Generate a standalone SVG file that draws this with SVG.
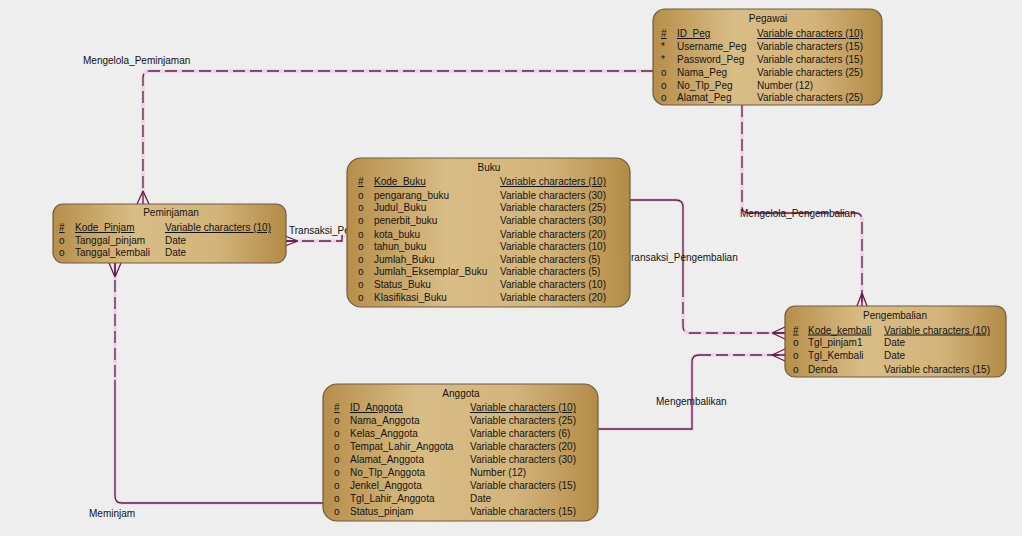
<svg xmlns="http://www.w3.org/2000/svg" width="1022" height="536" viewBox="0 0 1022 536">
<style>
.ent{stroke:#6e5c3e;stroke-width:1.2;fill:url(#gold)}
.t{font-family:"Liberation Sans",Arial,sans-serif;font-size:10px;fill:#141414}
.ttl{text-anchor:middle}
.u{text-decoration:underline}
.lbl{font-family:"Liberation Sans",Arial,sans-serif;font-size:10px;fill:#111}
.halo{fill:none;stroke:#ead6e2;stroke-width:3.5;stroke-linejoin:round}
.ln{fill:none;stroke:#631d4c;stroke-width:1.3}
.dash{stroke-dasharray:12 5}
</style>
<defs>
<linearGradient id="gold" x1="0" y1="0" x2="1" y2="0">
<stop offset="0" stop-color="#b68e4a"/>
<stop offset="0.35" stop-color="#d9bd86"/>
<stop offset="0.7" stop-color="#d3b47b"/>
<stop offset="1" stop-color="#b38b47"/>
</linearGradient>
</defs>
<rect x="0" y="0" width="1022" height="536" fill="#eeeeee"/>

<g id="connectors">
<path class="halo" d="M653,71 H150 Q143,71 143,78 V204"/>
<path class="halo" d="M285,241 H342 V236 H347"/>
<path class="halo" d="M630,200 H676 Q683,200 683,207 V326 Q683,333 690,333 H785"/>
<path class="halo" d="M742,105 V206 Q742,213 749,213 H855 Q862,213 862,220 V306"/>
<path class="halo" d="M598,429 H692 V362 Q692,355 699,355 H785"/>
<path class="halo" d="M115,263 V496 Q115,503 122,503 H323"/>
<!-- Mengelola_Peminjaman -->
<path class="ln dash" d="M653,71 H150 Q143,71 143,78 V204"/>
<path class="ln" d="M143,191 L137,204 M143,191 L149,204"/>
<!-- Transaksi_Peminjaman -->
<path class="ln dash" d="M285,241 H342 V236 H347"/>
<path class="ln" d="M298,241 L285,236 M298,241 L285,246 M285,241 H298"/>
<!-- Transaksi_Pengembalian -->
<path class="ln" d="M630,200 H676 Q683,200 683,207 V285"/>
<path class="ln dash" d="M683,285 V326 Q683,333 690,333 H785"/>
<path class="ln" d="M772,333 L785,327 M772,333 L785,339 M772,333 H785"/>
<!-- Mengelola_Pengembalian -->
<path class="ln dash" d="M742,105 V206 Q742,213 749,213"/>
<path class="ln" d="M749,213 H800"/>
<path class="ln dash" d="M800,213 H855 Q862,213 862,220 V306"/>
<path class="ln" d="M862,293 L857,306 M862,293 L867,306 M862,293 V306"/>
<!-- Mengembalikan -->
<path class="ln" d="M598,429 H692 V362 Q692,355 699,355"/>
<path class="ln dash" d="M699,355 H785"/>
<path class="ln" d="M772,355 L785,349 M772,355 L785,361 M772,355 H785"/>
<!-- Meminjam -->
<path class="ln dash" d="M115,263 V380"/>
<path class="ln" d="M115,380 V496 Q115,503 122,503 H323"/>
<path class="ln" d="M115,277 L109,263 M115,277 L121,263 M115,277 V263"/>
<text class="lbl" x="83" y="64">Mengelola_Peminjaman</text>
<text class="lbl" x="289" y="234">Transaksi_Pe</text>
<text class="lbl" x="631" y="261">ransaksi_Pengembalian</text>
<text class="lbl" x="740" y="217">Mengelola_Pengembalian</text>
<text class="lbl" x="656" y="405">Mengembalikan</text>
<text class="lbl" x="89" y="517">Meminjam</text>
</g>

<g id="pegawai">
<rect class="ent" x="653" y="9" width="229" height="96" rx="12"/>
<text class="t ttl" x="768" y="22">Pegawai</text>
<text class="t u" x="661" y="37">#</text><text class="t u" x="677" y="37">ID_Peg</text><text class="t u" x="757" y="37">Variable characters (10)</text>
<text class="t" x="661" y="50">*</text><text class="t" x="677" y="50">Username_Peg</text><text class="t" x="757" y="50">Variable characters (15)</text>
<text class="t" x="661" y="62.5">*</text><text class="t" x="677" y="62.5">Password_Peg</text><text class="t" x="757" y="62.5">Variable characters (15)</text>
<text class="t" x="661" y="75.5">o</text><text class="t" x="677" y="75.5">Nama_Peg</text><text class="t" x="757" y="75.5">Variable characters (25)</text>
<text class="t" x="661" y="88.5">o</text><text class="t" x="677" y="88.5">No_Tlp_Peg</text><text class="t" x="757" y="88.5">Number (12)</text>
<text class="t" x="661" y="101">o</text><text class="t" x="677" y="101">Alamat_Peg</text><text class="t" x="757" y="101">Variable characters (25)</text>
</g>

<g id="buku">
<rect class="ent" x="347" y="158" width="283" height="149" rx="14"/>
<text class="t ttl" x="489" y="171">Buku</text>
<text class="t u" x="358" y="185">#</text><text class="t u" x="374" y="185">Kode_Buku</text><text class="t u" x="500" y="185">Variable characters (10)</text>
<text class="t" x="358" y="198.5">o</text><text class="t" x="374" y="198.5">pengarang_buku</text><text class="t" x="500" y="198.5">Variable characters (30)</text>
<text class="t" x="358" y="211">o</text><text class="t" x="374" y="211">Judul_Buku</text><text class="t" x="500" y="211">Variable characters (25)</text>
<text class="t" x="358" y="224">o</text><text class="t" x="374" y="224">penerbit_buku</text><text class="t" x="500" y="224">Variable characters (30)</text>
<text class="t" x="358" y="237.5">o</text><text class="t" x="374" y="237.5">kota_buku</text><text class="t" x="500" y="237.5">Variable characters (20)</text>
<text class="t" x="358" y="250">o</text><text class="t" x="374" y="250">tahun_buku</text><text class="t" x="500" y="250">Variable characters (10)</text>
<text class="t" x="358" y="262.5">o</text><text class="t" x="374" y="262.5">Jumlah_Buku</text><text class="t" x="500" y="262.5">Variable characters (5)</text>
<text class="t" x="358" y="275">o</text><text class="t" x="374" y="275">Jumlah_Eksemplar_Buku</text><text class="t" x="500" y="275">Variable characters (5)</text>
<text class="t" x="358" y="288">o</text><text class="t" x="374" y="288">Status_Buku</text><text class="t" x="500" y="288">Variable characters (10)</text>
<text class="t" x="358" y="301">o</text><text class="t" x="374" y="301">Klasifikasi_Buku</text><text class="t" x="500" y="301">Variable characters (20)</text>
</g>

<g id="peminjaman">
<rect class="ent" x="53" y="204" width="233" height="59" rx="10"/>
<text class="t ttl" x="171" y="216">Peminjaman</text>
<text class="t u" x="59" y="231">#</text><text class="t u" x="75" y="231">Kode_Pinjam</text><text class="t u" x="165" y="231">Variable characters (10)</text>
<text class="t" x="59" y="243.5">o</text><text class="t" x="75" y="243.5">Tanggal_pinjam</text><text class="t" x="165" y="243.5">Date</text>
<text class="t" x="59" y="256">o</text><text class="t" x="75" y="256">Tanggal_kembali</text><text class="t" x="165" y="256">Date</text>
</g>

<g id="pengembalian">
<rect class="ent" x="785" y="306" width="221" height="71" rx="10"/>
<text class="t ttl" x="895" y="318.5">Pengembalian</text>
<text class="t u" x="793" y="333.5">#</text><text class="t u" x="808" y="333.5">Kode_kembali</text><text class="t u" x="884" y="333.5">Variable characters (10)</text>
<text class="t" x="793" y="346">o</text><text class="t" x="808" y="346">Tgl_pinjam1</text><text class="t" x="884" y="346">Date</text>
<text class="t" x="793" y="359">o</text><text class="t" x="808" y="359">Tgl_Kembali</text><text class="t" x="884" y="359">Date</text>
<text class="t" x="793" y="372.5">o</text><text class="t" x="808" y="372.5">Denda</text><text class="t" x="884" y="372.5">Variable characters (15)</text>
</g>

<g id="anggota">
<rect class="ent" x="323" y="384" width="275" height="137" rx="14"/>
<text class="t ttl" x="461" y="397">Anggota</text>
<text class="t u" x="334" y="411">#</text><text class="t u" x="350" y="411">ID_Anggota</text><text class="t u" x="470" y="411">Variable characters (10)</text>
<text class="t" x="334" y="424">o</text><text class="t" x="350" y="424">Nama_Anggota</text><text class="t" x="470" y="424">Variable characters (25)</text>
<text class="t" x="334" y="437">o</text><text class="t" x="350" y="437">Kelas_Anggota</text><text class="t" x="470" y="437">Variable characters (6)</text>
<text class="t" x="334" y="449.5">o</text><text class="t" x="350" y="449.5">Tempat_Lahir_Anggota</text><text class="t" x="470" y="449.5">Variable characters (20)</text>
<text class="t" x="334" y="463">o</text><text class="t" x="350" y="463">Alamat_Anggota</text><text class="t" x="470" y="463">Variable characters (30)</text>
<text class="t" x="334" y="476">o</text><text class="t" x="350" y="476">No_Tlp_Anggota</text><text class="t" x="470" y="476">Number (12)</text>
<text class="t" x="334" y="489">o</text><text class="t" x="350" y="489">Jenkel_Anggota</text><text class="t" x="470" y="489">Variable characters (15)</text>
<text class="t" x="334" y="502">o</text><text class="t" x="350" y="502">Tgl_Lahir_Anggota</text><text class="t" x="470" y="502">Date</text>
<text class="t" x="334" y="515">o</text><text class="t" x="350" y="515">Status_pinjam</text><text class="t" x="470" y="515">Variable characters (15)</text>
</g>
</svg>
